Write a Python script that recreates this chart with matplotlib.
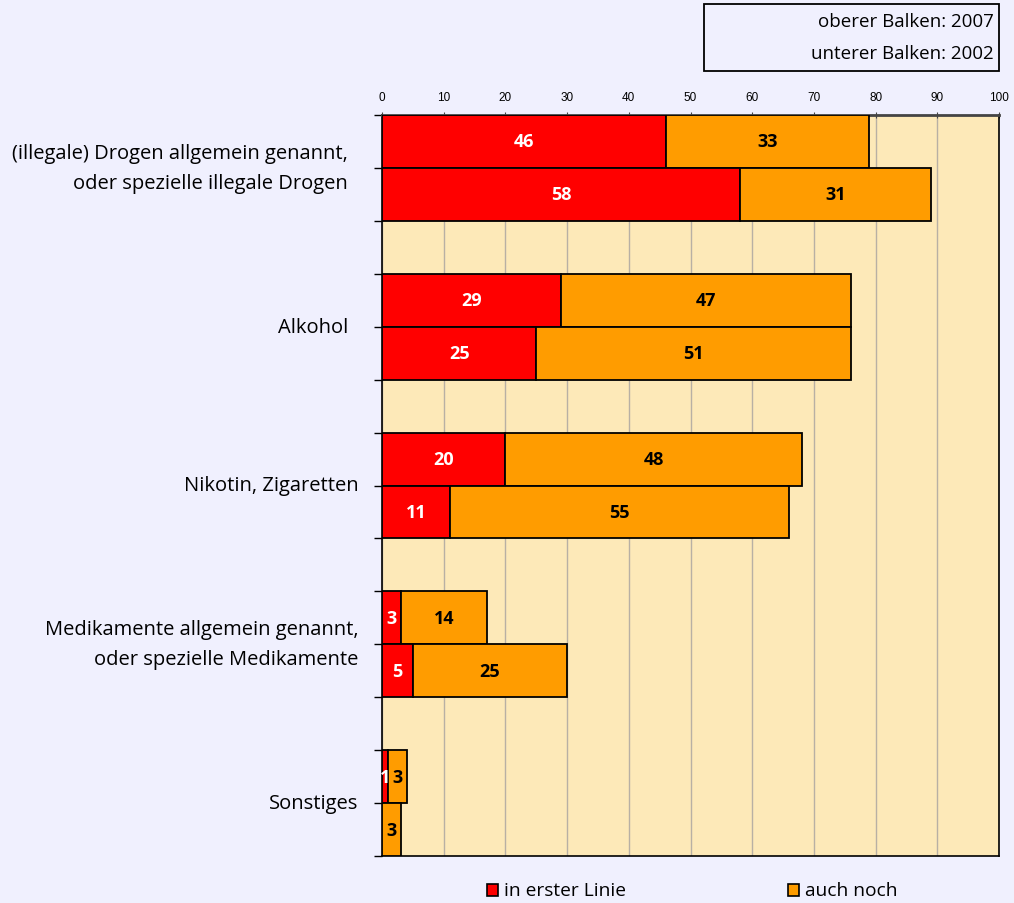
import matplotlib
matplotlib.use("Agg")
import matplotlib.pyplot as plt
from matplotlib.patches import Rectangle
import numpy as np

# Substance categories (top to bottom)
categories = [
    "(illegale) Drogen allgemein genannt,  \noder spezielle illegale Drogen  ",
    "Alkohol  ",
    "Nikotin, Zigaretten",
    "Medikamente allgemein genannt,\noder spezielle Medikamente",
    "Sonstiges",
]
# Percentages, upper bar = 2007, lower bar = 2002
first_2007 = [46, 29, 20, 3, 1]
also_2007 = [33, 47, 48, 14, 3]
first_2002 = [58, 25, 11, 5, 0]
also_2002 = [31, 51, 55, 25, 3]
x_ticks = list(range(0, 101, 10))

series_names = ["in erster Linie", "auch noch"]
year_note = ["oberer Balken: 2007", "unterer Balken: 2002"]

RED = "#ff0000"
ORANGE = "#ff9c00"
BG = "#f0f0fe"
PLOT_BG = "#fde9b8"
FONT = "Open Sans"

fig = plt.figure(figsize=(10.14, 9.04), dpi=100, facecolor=BG)
ax = fig.add_axes([382 / 1014, 1 - 857 / 904, (999 - 382) / 1014, (857 - 116) / 904])
ax.set_facecolor(PLOT_BG)

n = len(categories)
pitch = 3.0
top_y = np.arange(n) * pitch + 0.5
bot_y = top_y + 1.0

edge = dict(edgecolor="black", linewidth=1.3, height=1.0, zorder=3)
ax.barh(top_y, first_2007, color=RED, **edge)
ax.barh(top_y, also_2007, left=first_2007, color=ORANGE, **edge)
ax.barh(bot_y, first_2002, color=RED, **edge)
ax.barh(bot_y, also_2002, left=first_2002, color=ORANGE, **edge)


def put_labels(ys, firsts, alsos):
    for y, f, a in zip(ys, firsts, alsos):
        if f > 0:
            ax.text(f / 2, y, str(f), ha="center", va="center", color="white",
                    fontsize=13, fontweight="bold", family=FONT, zorder=4)
        if a > 0:
            ax.text(f + a / 2, y, str(a), ha="center", va="center", color="black",
                    fontsize=13, fontweight="bold", family=FONT, zorder=4)


put_labels(top_y, first_2007, also_2007)
put_labels(bot_y, first_2002, also_2002)

ax.set_xlim(0, 100)
ax.set_ylim(n * pitch - 1, 0)
ax.xaxis.tick_top()
ax.set_xticks(x_ticks)
ax.set_xticklabels([str(t) for t in x_ticks], family="Liberation Sans", fontsize=8.5)
ax.tick_params(axis="x", direction="inout", length=5, width=0.8, pad=6, color="#444444")
ax.grid(axis="x", color="#b8b0a4", linewidth=1.0, zorder=1)
ax.set_axisbelow(True)

# boundary ticks on the left side, category names as separate texts
ax.set_yticks(np.arange(0, n * pitch))
ax.set_yticklabels([])
ax.tick_params(axis="y", direction="out", length=6, width=1.0)
for y, name in zip(top_y + 0.5, categories):
    ax.text(-0.038, y, name, transform=ax.get_yaxis_transform(), ha="right",
            va="center", fontsize=14.5, family=FONT, linespacing=1.65)

for side in ["left", "bottom", "right"]:
    ax.spines[side].set_color("black")
    ax.spines[side].set_linewidth(1.2)
ax.spines["top"].set_color("#444444")
ax.spines["top"].set_linewidth(2.0)

# year note box
fig.add_artist(Rectangle((704 / 1014, 1 - 72 / 904), (999 - 704) / 1014, 67 / 904,
                         transform=fig.transFigure, facecolor="none",
                         edgecolor="black", linewidth=1.3))
fig.text(994 / 1014, 1 - 22 / 904, year_note[0], ha="right", va="center",
         fontsize=13.5, family=FONT)
fig.text(994 / 1014, 1 - 54 / 904, year_note[1], ha="right", va="center",
         fontsize=13.5, family=FONT)

# legend
for x0, col, name in [(487, RED, series_names[0]), (788, ORANGE, series_names[1])]:
    fig.add_artist(Rectangle((x0 / 1014, 1 - 897 / 904), 11 / 1014, 12 / 904,
                             transform=fig.transFigure, facecolor=col,
                             edgecolor="black", linewidth=1.2))
    fig.text((x0 + 17) / 1014, 1 - 891 / 904, name, ha="left", va="center",
             fontsize=13.8, family=FONT)

fig.savefig("out.png", dpi=100, facecolor=BG)
